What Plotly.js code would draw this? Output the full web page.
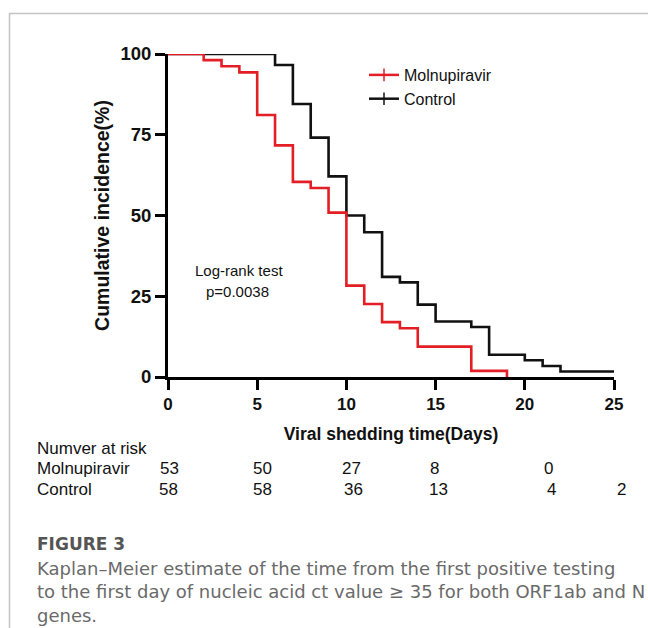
<!DOCTYPE html>
<html>
<head>
<meta charset="utf-8">
<script src="https://cdn.plot.ly/plotly-3.0.1.min.js"></script>
<style>html,body{margin:0;padding:0;background:#fff;}#chart{width:648px;height:628px;}</style>
</head>
<body>
<div id="chart"></div>
<script>
// ---- data ----
const molTimes = [0, 2, 3, 4, 5, 6, 7, 8, 9, 10, 11, 12, 13, 14, 17, 19];
const molValues = [100, 98.1, 96.2, 94.3, 81.1, 71.7, 60.4, 58.5, 50.9, 28.3, 22.6, 17.0, 15.1, 9.4, 1.9, 0];
const ctlTimes = [0, 6, 7, 8, 9, 10, 11, 12, 13, 14, 15, 17, 18, 20, 21, 22, 25];
const ctlValues = [100, 96.6, 84.5, 74.1, 62.1, 50.0, 44.8, 31.0, 29.3, 22.4, 17.2, 15.5, 6.9, 5.2, 3.4, 1.7, 1.7];
const seriesNames = ["Molnupiravir", "Control"];
const riskHeader = "Numver at risk";
const molRisk = ["53", "50", "27", "8", "0"];
const ctlRisk = ["58", "58", "36", "13", "4", "2"];
const xTicks = [0, 5, 10, 15, 20, 25];
const yTicks = [0, 25, 50, 75, 100];
const captionTitle = "FIGURE 3";
const captionLines = [
  "Kaplan\u2013Meier estimate of the time from the first positive testing",
  "to the first day of nucleic acid ct value \u2265 35 for both ORF1ab and N",
  "genes."
];

// ---- layout helpers (pixel -> paper) ----
const L = 168, R = 614, T = 54, B = 377;
const px = x => (x - L) / (R - L);
const py = y => (B - y) / (B - T);

const RED = "#e31e24";
const INK = "#111";
const font = "Liberation Sans, Arial, sans-serif";
const capFont = "DejaVu Sans, sans-serif";

const traces = [
  {x: ctlTimes, y: ctlValues, mode: "lines", line: {shape: "hv", color: INK, width: 2.6}, showlegend: false, hoverinfo: "skip"},
  {x: molTimes, y: molValues, mode: "lines", line: {shape: "hv", color: RED, width: 2.6}, showlegend: false, hoverinfo: "skip"},
  {x: [null], y: [null], name: seriesNames[0], mode: "lines+markers", line: {color: RED, width: 2.5},
   marker: {symbol: "line-ns-open", size: 9, color: RED, line: {width: 1.5, color: RED}}},
  {x: [null], y: [null], name: seriesNames[1], mode: "lines+markers", line: {color: INK, width: 2.5},
   marker: {symbol: "line-ns-open", size: 9, color: INK, line: {width: 1.5, color: INK}}}
];

const molRiskX = [169, 262, 351, 434, 548];
const ctlRiskX = [168, 262, 353, 438, 551, 621];

const annotations = [];
const ann = (x, y, text, f, anchor) => annotations.push({xref: "paper", yref: "paper", x: px(x), y: py(y), text: text,
  showarrow: false, font: f, xanchor: anchor || "left", yanchor: "middle"});
const txt = {family: font, size: 17, color: INK};

ann(239, 270, "Log-rank test", {family: font, size: 15, color: INK}, "center");
ann(237, 291, "p=0.0038", {family: font, size: 15, color: INK}, "center");
ann(35, 448, riskHeader, txt);
ann(35, 468, seriesNames[0], txt);
ann(35, 489, seriesNames[1], txt);
molRisk.forEach((v, i) => ann(molRiskX[i], 468, v, txt, "center"));
ctlRisk.forEach((v, i) => ann(ctlRiskX[i], 489, v, txt, "center"));
ann(35, 544, captionTitle, {family: capFont, size: 17, color: "#555", weight: "bold"});
captionLines.forEach((t, i) => ann(35, 568 + 23.5 * i, t, {family: capFont, size: 18, color: "#6a6a6a"}));

const shapes = [
  {type: "line", xref: "paper", yref: "paper", x0: px(9), x1: px(648), y0: py(13.5), y1: py(13.5), line: {color: "#c4c4c4", width: 1.5}},
  {type: "line", xref: "paper", yref: "paper", x0: px(9.5), x1: px(9.5), y0: py(13), y1: py(628), line: {color: "#c4c4c4", width: 1.5}}
];

const layout = {
  width: 648, height: 628,
  margin: {l: L, r: 648 - R, t: T, b: 628 - B},
  paper_bgcolor: "#fff", plot_bgcolor: "#fff",
  showlegend: true,
  legend: {x: px(364), y: py(58), xanchor: "left", yanchor: "top", bgcolor: "rgba(0,0,0,0)",
    font: {family: font, size: 16, color: INK}, tracegroupgap: 0, itemwidth: 30},
  xaxis: {range: [0, 25], tickvals: xTicks, showgrid: false, zeroline: false, showline: true, linecolor: "#000", linewidth: 3,
    ticks: "outside", ticklen: 10, tickwidth: 3, tickcolor: "#000",
    tickfont: {family: font, size: 17, color: INK, weight: "bold"},
    title: {text: "Viral shedding time(Days)", font: {family: font, size: 17.5, color: INK, weight: "bold"}, standoff: 15},
    automargin: false, fixedrange: true},
  yaxis: {range: [0, 100], tickvals: yTicks, showgrid: false, zeroline: false, showline: true, linecolor: "#000", linewidth: 3,
    ticks: "outside", ticklen: 10, tickwidth: 3, tickcolor: "#000",
    tickfont: {family: font, size: 18.5, color: INK, weight: "bold"},
    title: {text: "Cumulative incidence(%)", font: {family: font, size: 19.5, color: INK, weight: "bold"}, standoff: 6},
    automargin: false, fixedrange: true},
  annotations: annotations,
  shapes: shapes
};

Plotly.newPlot("chart", traces, layout, {staticPlot: true, displayModeBar: false});
</script>
</body>
</html>
